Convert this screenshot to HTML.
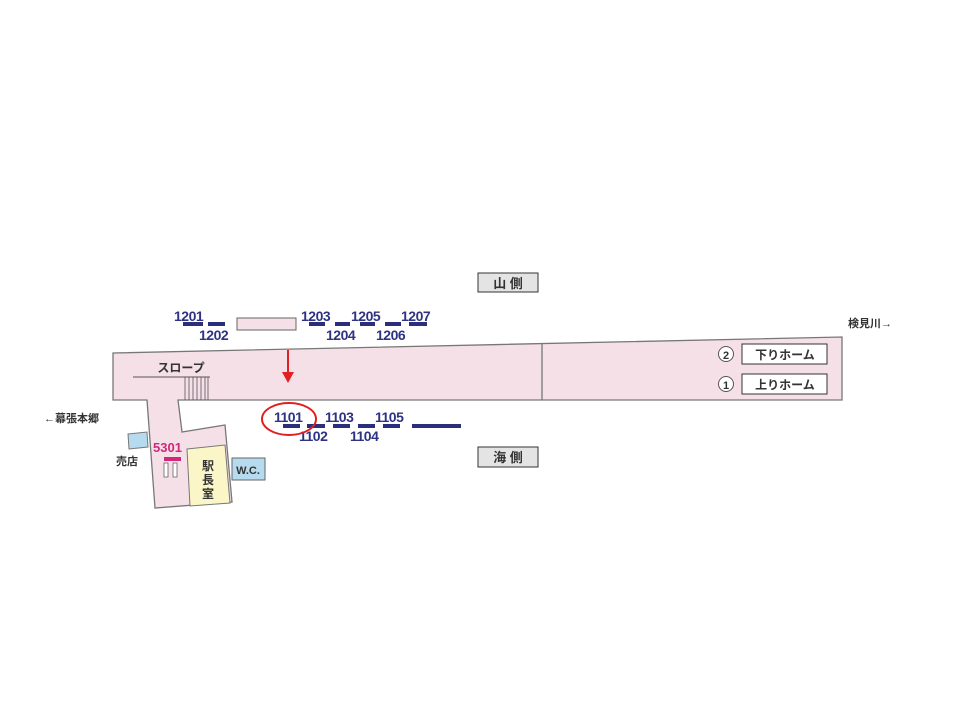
<!DOCTYPE html>
<html><head><meta charset="utf-8"><style>
html,body{margin:0;padding:0;background:#fff;width:960px;height:720px;overflow:hidden}
svg{display:block}
text{font-family:"Liberation Sans","Noto Sans CJK JP",sans-serif;font-weight:bold}
.n{fill:#2e3283;font-size:14px;letter-spacing:-0.5px}
.b{fill:#2b2e7a}
</style></head><body>
<svg width="960" height="720" viewBox="0 0 960 720">
<polygon points="113,353 842,337 842,400 178,400 182,432 225,425 232,502 155,508 147,400 113,400" fill="#f6e0e8" stroke="#777" stroke-width="1.3"/>
<line x1="542" y1="344" x2="542" y2="400" stroke="#777" stroke-width="1.3"/>
<polygon points="187,449 225,445 230,503 190,506" fill="#fbf6c8" stroke="#777" stroke-width="1"/>
<text x="208" y="470" font-size="12" text-anchor="middle" fill="#333">駅</text>
<text x="208" y="484" font-size="12" text-anchor="middle" fill="#333">長</text>
<text x="208" y="498" font-size="12" text-anchor="middle" fill="#333">室</text>
<rect x="232" y="458" width="33" height="22" fill="#b7dbee" stroke="#666"/>
<text x="248" y="474" font-size="11" text-anchor="middle" fill="#333">W.C.</text>
<polygon points="128,434 147,432 148,447 129,449" fill="#b7dbee" stroke="#777" stroke-width="1"/>
<text x="116" y="465" font-size="11" fill="#333">売店</text>
<text x="153" y="452" font-size="13" fill="#d0287a">5301</text>
<rect x="164" y="457" width="17" height="4" fill="#d0287a"/>
<rect x="164" y="463" width="4" height="14" fill="#fff" stroke="#666" stroke-width="0.8"/>
<rect x="173" y="463" width="4" height="14" fill="#fff" stroke="#666" stroke-width="0.8"/>
<text x="181" y="372" font-size="12" text-anchor="middle" fill="#333">スロープ</text>
<line x1="133" y1="377" x2="210" y2="377" stroke="#555" stroke-width="1"/>
<g stroke="#555" stroke-width="0.8">
<line x1="185" y1="377" x2="185" y2="400"/><line x1="189" y1="377" x2="189" y2="400"/><line x1="193" y1="377" x2="193" y2="400"/><line x1="197" y1="377" x2="197" y2="400"/><line x1="201" y1="377" x2="201" y2="400"/><line x1="205" y1="377" x2="205" y2="400"/><line x1="208" y1="377" x2="208" y2="400"/>
</g>
<line x1="288" y1="350" x2="288" y2="375" stroke="#e02020" stroke-width="2"/>
<polygon points="282,372 294,372 288,383" fill="#e02020"/>
<rect x="237" y="318" width="59" height="12" fill="#f6e0e8" stroke="#666"/>
<rect class="b" x="183" y="322" width="20" height="4"/>
<rect class="b" x="208" y="322" width="17" height="4"/>
<rect class="b" x="309" y="322" width="16" height="4"/>
<rect class="b" x="335" y="322" width="15" height="4"/>
<rect class="b" x="360" y="322" width="15" height="4"/>
<rect class="b" x="385" y="322" width="16" height="4"/>
<rect class="b" x="409" y="322" width="18" height="4"/>
<text class="n" x="174" y="321">1201</text>
<text class="n" x="199" y="340">1202</text>
<text class="n" x="301" y="321">1203</text>
<text class="n" x="326" y="340">1204</text>
<text class="n" x="351" y="321">1205</text>
<text class="n" x="376" y="340">1206</text>
<text class="n" x="401" y="321">1207</text>
<rect class="b" x="283" y="424" width="17" height="4"/>
<rect class="b" x="307" y="424" width="18" height="4"/>
<rect class="b" x="333" y="424" width="17" height="4"/>
<rect class="b" x="358" y="424" width="17" height="4"/>
<rect class="b" x="383" y="424" width="17" height="4"/>
<rect class="b" x="412" y="424" width="49" height="4"/>
<text class="n" x="274" y="422">1101</text>
<text class="n" x="299" y="441">1102</text>
<text class="n" x="325" y="422">1103</text>
<text class="n" x="350" y="441">1104</text>
<text class="n" x="375" y="422">1105</text>
<ellipse cx="289" cy="419" rx="27" ry="16" fill="none" stroke="#e02020" stroke-width="2"/>
<rect x="478" y="273" width="60" height="19" fill="#e4e4e4" stroke="#333"/>
<text x="508" y="288" font-size="13" text-anchor="middle" fill="#333">山 側</text>
<rect x="478" y="447" width="60" height="20" fill="#e4e4e4" stroke="#333"/>
<text x="508" y="462" font-size="13" text-anchor="middle" fill="#333">海 側</text>
<circle cx="726" cy="354" r="7.5" fill="#fff" stroke="#555"/>
<text x="726" y="359" font-size="11" text-anchor="middle" fill="#333" font-weight="normal">2</text>
<rect x="742" y="344" width="85" height="20" fill="#fff" stroke="#333"/>
<text x="785" y="359" font-size="12" text-anchor="middle" fill="#333">下りホーム</text>
<circle cx="726" cy="384" r="7.5" fill="#fff" stroke="#555"/>
<text x="726" y="389" font-size="11" text-anchor="middle" fill="#333" font-weight="normal">1</text>
<rect x="742" y="374" width="85" height="20" fill="#fff" stroke="#333"/>
<text x="785" y="389" font-size="12" text-anchor="middle" fill="#333">上りホーム</text>
<text x="848" y="327" font-size="11" fill="#333">検見川→</text>
<text x="44" y="422" font-size="11" fill="#333">←幕張本郷</text>
</svg>
</body></html>
